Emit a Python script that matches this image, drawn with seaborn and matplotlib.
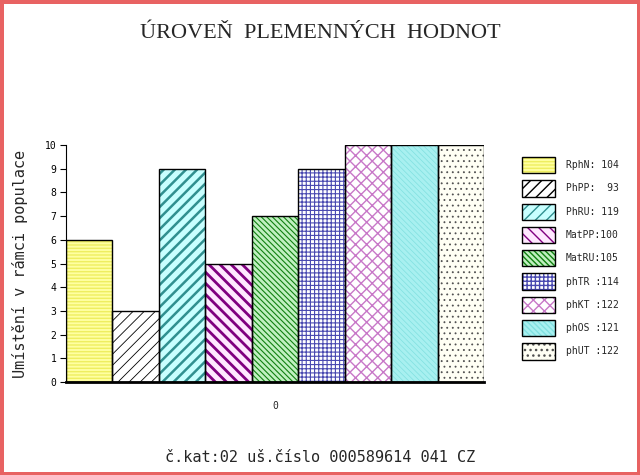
import pandas as pd
import matplotlib
matplotlib.use("Agg")
import matplotlib.pyplot as plt
import seaborn as sns
from matplotlib.legend_handler import HandlerTuple

# data
traits = ["RphN", "PhPP", "PhRU", "MatPP", "MatRU", "phTR", "phKT", "phOS", "phUT"]
placing = [6, 3, 9, 5, 7, 9, 10, 10, 10]
breeding_values = [104, 93, 119, 100, 105, 114, 122, 121, 122]
legend_labels = ["RphN: 104", "PhPP:  93", "PhRU: 119", "MatPP:100", "MatRU:105",
                 "phTR :114", "phKT :122", "phOS :121", "phUT :122"]
group = ["0"] * len(traits)

# styling
faces = ["#ffffa0", "#ffffff", "#c8ffff", "#ffe8ff", "#c0f0c0",
         "#ffffff", "#ffffff", "#a8f0f0", "#fffff4"]
hatch_cols = ["#eeee60", "#000000", "#309090", "#800080", "#108010",
              "#4848b0", "#c878c8", "#80e0e0", "#505050"]
hatches = ["-----", "///", "///", "\\\\\\", "\\\\\\\\\\\\", "++++", "xxx", "\\\\\\\\\\\\", "..."]
hatch_lw = [1.0, 0.6, 1.8, 2.0, 0.8, 0.8, 1.0, 0.5, 0.6]

df = pd.DataFrame({"grp": group, "trait": traits, "val": placing})

sns.set_style("white")
plt.rcParams["font.family"] = ["DejaVu Sans Mono", "DejaVu Sans"]

fig = plt.figure(figsize=(6.4, 4.75), dpi=100)
fig.patch.set_facecolor("white")
fig.patch.set_edgecolor("#e86262")
fig.patch.set_linewidth(5)
ax = fig.add_axes([66 / 640, 1 - 382 / 475, 418 / 640, 237 / 475])

# fill + hatch layer
sns.barplot(data=df, x="grp", y="val", hue="trait", hue_order=traits,
            palette=faces, width=1.0, gap=0, dodge=True, legend=False,
            saturation=1, linewidth=0, ax=ax)
fills = list(ax.patches)
for p, fc, hc, h, lw in zip(fills, faces, hatch_cols, hatches, hatch_lw):
    p.set_facecolor(fc)
    p.set_edgecolor(hc)
    p.set_linewidth(0)
    p.set_hatch(h)
    if hasattr(p, "set_hatch_linewidth"):
        p.set_hatch_linewidth(lw)

# outline layer
sns.barplot(data=df, x="grp", y="val", hue="trait", hue_order=traits,
            palette=faces, width=1.0, gap=0, dodge=True, legend=False,
            saturation=1, ax=ax)
outlines = list(ax.patches)[len(fills):]
for p in outlines:
    p.set_facecolor("none")
    p.set_edgecolor("black")
    p.set_linewidth(1.0)

ax.set_xlim(-0.5, 0.5)
ax.set_ylim(0, 10)
ax.set_yticks(range(0, 11))
ax.tick_params(axis="y", left=True, length=4, width=0.8, pad=3, labelsize=7, colors="black")
ax.tick_params(axis="x", bottom=False, length=0, pad=14, labelsize=7)
ax.set_xlabel("")
ax.set_ylabel("Umístění v rámci populace", fontsize=11, labelpad=12)
sns.despine(ax=ax, top=True, right=True)
ax.spines["left"].set_color("black")
ax.spines["left"].set_linewidth(0.8)
ax.spines["bottom"].set_color("black")
ax.spines["bottom"].set_linewidth(2)

handles = [(f, o) for f, o in zip(fills, outlines)]
fig.legend(handles=handles, labels=legend_labels,
           handler_map={tuple: HandlerTuple(ndivide=1)},
           loc="upper left", bbox_to_anchor=(522 / 640, 1 - 157 / 475),
           frameon=False, fontsize=7, handlelength=3.4, handleheight=2.2,
           labelspacing=0.72, handletextpad=1.1, borderpad=0, borderaxespad=0)

fig.text(0.5, 1 - 33 / 475, "ÚROVEŇ  PLEMENNÝCH  HODNOT", ha="center", va="center",
         fontsize=16, family=["Liberation Serif", "DejaVu Serif"])
fig.text(0.5, 1 - 458 / 475, "č.kat:02 uš.číslo 000589614 041 CZ", ha="center",
         va="center", fontsize=11)

fig.savefig("out.png", dpi=100, facecolor=fig.get_facecolor(), edgecolor=fig.get_edgecolor())
